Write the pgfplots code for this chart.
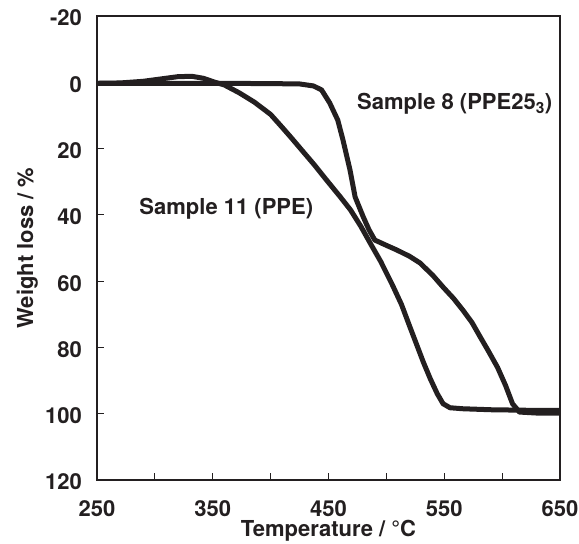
\documentclass[border=0pt]{standalone}
\usepackage{fontspec}
\setmainfont{TeX Gyre Heros}
\usepackage{pgfplots}
\pgfplotsset{compat=1.18}
\definecolor{ink}{HTML}{231F20}
\pgfplotstableread{
T W
250 0.3
270 0.2
290 -0.3
305 -1.0
320 -1.7
332 -1.8
342 -1.2
352 0
360 0.8
373 3.2
386 6.0
400 9.7
410 13.6
418 16.8
427 20.5
438 25.0
449 29.8
460 34.5
469 38.5
478 43.5
486 48.5
495 54
505 61
513 67
520 73.5
526 79
532 84.5
538 89.5
544 94
549 97
555 98.2
566 98.5
590 98.8
610 98.9
630 99
650 99
}\ppe
\pgfplotstableread{
T W
250 0.3
300 0.3
350 0.3
400 0.4
425 0.5
437 1.1
444 2.3
451 6.2
458 11.4
462.5 17.4
468.6 26.5
473 34.6
480 40.6
485 44.5
490 47.6
500 49.2
509 50.6
520 52.5
529 54.5
540 58.2
549 61.8
558 65.2
566 68.7
574 72.5
581 76.8
588 81
596 86
603 91.5
609 97
615 99.5
630 99.8
650 99.8
}\ppetf
\begin{document}
\begin{tikzpicture}[font=\fontsize{22bp}{26bp}\selectfont\bfseries]
\begin{axis}[
  scale only axis, width=463bp, height=464bp,
  xmin=250, xmax=650, ymin=-20, ymax=120, y dir=reverse,
  xtick={250,350,...,650}, minor xtick={300,400,500,600},
  ytick={-20,0,...,120},
  tick pos=left, tick align=inside,
  major tick length=7bp, minor tick length=7bp,
  axis line style={line width=1.5bp, draw=ink},
  every tick/.style={draw=ink, line width=0.8bp},
  every minor tick/.style={draw=ink, line width=0.8bp},
  /pgf/number format/assume math mode=true,
  tick label style={font=\fontsize{22bp}{26bp}\selectfont\bfseries, inner sep=0pt, text=ink},
  yticklabel style={xshift=-15bp, yshift=-2bp},
  xticklabel style={yshift=-20bp},
  xlabel={Temperature / °C},
  ylabel={Weight loss / \%},
  xlabel style={at={(axis description cs:0.5,-0.1228)}, anchor=base, inner sep=0pt, text=ink},
  ylabel style={at={(axis description cs:-0.1382,0.5)}, anchor=base, inner sep=0pt, text=ink},
]
\addplot[ink, line width=5bp, line join=round, line cap=round] table[x=T,y=W] {\ppe};
\addplot[ink, line width=5bp, line join=round, line cap=round] table[x=T,y=W] {\ppetf};
\node[anchor=base west, text=ink, inner sep=0pt] at (axis cs:286.5,40) {Sample 11 (PPE)};
\node[anchor=base west, text=ink, inner sep=0pt] at (axis cs:474.6,8.15) {Sample 8 (PPE25\textsubscript{3})};
\end{axis}
\pgfresetboundingbox
\path[use as bounding box] (current axis.south west) ++(-97bp,-64bp) rectangle ++(579bp,544bp);
\end{tikzpicture}
\end{document}
